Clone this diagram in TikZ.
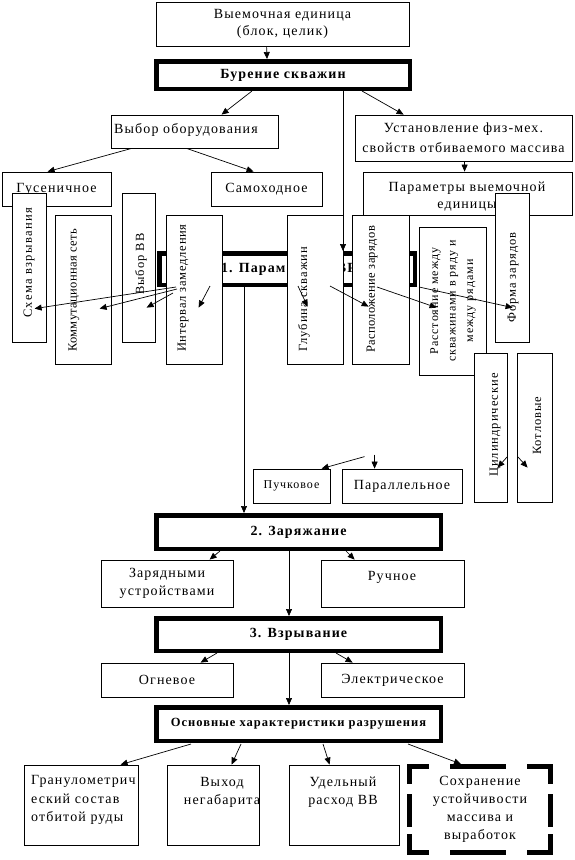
\documentclass[tikz,border=0pt]{standalone}
\usepackage{fontspec}
\setmainfont{Liberation Serif}[LetterSpace=8]
\usetikzlibrary{arrows.meta,calc}
\begin{document}
\begin{tikzpicture}[x=1pt,y=-1pt,
 sz/.style 2 args={minimum width=#1,minimum height=#2},
 box/.style={draw,line width=0.8pt,fill=white,inner sep=0pt},
 tbox/.style={draw,line width=4.5pt,fill=white,inner sep=0pt},
 dsh/.style={line width=5pt,line cap=rect},
 arr/.style={line width=0.7pt,-{Triangle[length=7pt,width=6pt]}},
 ta/.style={font=\fontsize{14}{18}\selectfont,align=center,inner sep=0pt},
 tl/.style={font=\fontsize{14}{18.5}\selectfont,align=left,inner sep=0pt},
 tb/.style={font=\fontsize{14}{17}\selectfont\bfseries,inner sep=0pt},
 tr/.style={font=\fontsize{12.5}{17}\selectfont,rotate=90,anchor=west,inner sep=0pt},
 trc/.style={font=\fontsize{12}{17.5}\selectfont,rotate=90,align=center,inner sep=0pt},
 ts/.style={font=\fontsize{12}{15}\selectfont,inner sep=0pt}]
\fill[white] (0,0) rectangle (574,860);
\useasboundingbox (0,0) rectangle (574,860);

% top part
\node[box,ta,font=\fontsize{14}{16.5}\selectfont,sz={253}{44}] (top) at (282.5,24) {Выемочная единица\\(блок, целик)};
\node[tbox,tb,sz={253.5}{27.5}] (bur) at (283,75) {Бурение скважин};
\node[box,sz={167}{33}] (vybob) at (194.5,131.5) {};
\node[ta] (tvybob) at (186,130) {Выбор оборудования};
\node[box,ta,font=\fontsize{14}{20}\selectfont,sz={217}{46}] (ust) at (463.5,138) {Установление физ-мех.\\свойств отбиваемого массива};
\node[box,ta,sz={109}{34}] (gus) at (56.5,189) {Гусеничное};
\node[box,ta,sz={111}{34}] (samo) at (266.5,189) {Самоходное};
\node[box,sz={209}{43}] (parvy) at (467.5,193.5) {};
\node[ta,font=\fontsize{14}{17}\selectfont] (tparvy) at (467,197) {Параметры выемочной\\единицы};

\draw[arr] ($(top.south west)+(111,0)$) -- ($(bur.north west)+(113,0)$);
\draw[arr] ($(bur.south west)+(98,0)$) -- ($(vybob.north west)+(111,0)$);
\draw[arr] ($(bur.south west)+(208,0)$) -- ($(ust.north west)+(49,0)$);
\draw[arr] ($(vybob.south west)+(21,0)$) -- ($(gus.north west)+(46,0)$);
\draw[arr] ($(vybob.south west)+(76,0)$) -- ($(samo.north west)+(43,0)$);
\draw[arr] ($(ust.south west)+(110,0)$) -- ($(parvy.north west)+(102,0)$);

% 1. parameters
\node[tbox,sz={255.5}{31.5}] (bvr) at (287,269) {};
\node[tb] (tbvr) at (288.5,269) {1. Параметры БВР};

% vertical boxes
\node[box,sz={34}{149}] (shema) at (29,267.5) {};
\node[tr] (tshema) at (29,318) {\addfontfeature{LetterSpace=11}Схема взрывания};
\node[box,sz={56}{149}] (kom) at (83,289.5) {};
\node[tr] (tkom) at (74,352) {\addfontfeature{LetterSpace=3}Коммутационная сеть};
\node[box,sz={33}{149}] (vybvv) at (138.5,267.5) {};
\node[tr] (tvybvv) at (141,295) {Выбор ВВ};
\node[box,sz={56}{149}] (interv) at (194,289.5) {};
\node[tr] (tinterv) at (183,352) {\addfontfeature{LetterSpace=6}Интервал замедления};
\node[box,sz={56}{149}] (glub) at (315,289.5) {};
\node[tr] (tglub) at (304,352) {Глубина скважин};
\node[box,sz={57}{149}] (rasp) at (380.5,289.5) {};
\node[tr] (trasp) at (372,353) {\addfontfeature{LetterSpace=3}Расположение зарядов};
\node[box,sz={67}{148}] (rasst) at (452.5,301) {};
\node[trc] (trasst) at (453,301) {Расстояние между\\скважинами в ряду и\\между рядами};
\node[box,sz={34}{149}] (forma) at (512,267.5) {};
\node[tr] (tforma) at (513,323) {Форма зарядов};
\node[box,sz={33}{149}] (cyl) at (490.5,427.5) {};
\node[tr] (tcyl) at (495,477) {Цилиндрические};
\node[box,sz={35}{149}] (kotl) at (534.5,427.5) {};
\node[tr] (tkotl) at (537,455) {Котловые};

\draw[arr] ($(bur.south west)+(189,0)$) -- ($(bvr.north west)+(186,0)$);

\draw[arr] ($(bvr.south west)+(19,0)$) -- ($(shema.north west)+(23,116)$);
\draw[arr] ($(bvr.south west)+(20,2)$) -- ($(kom.north west)+(45,94)$);
\draw[arr] ($(bvr.south west)+(16,6)$) -- ($(vybvv.north west)+(25,115)$);
\draw[arr] ($(bvr.south west)+(53,-1)$) -- ($(interv.north west)+(33,93)$);
\draw[arr] ($(bvr.south west)+(141,-1)$) -- ($(glub.north west)+(21,92)$);
\draw[arr] ($(bvr.south west)+(173,-1)$) -- ($(rasp.north west)+(17,92)$);
\draw[arr] ($(bvr.south west)+(220,0)$) -- ($(rasst.north west)+(18,81)$);
\draw[arr] ($(bvr.south west)+(262,0)$) -- ($(forma.north west)+(18,115)$);
\draw[arr] ($(cyl.north east)+(0,104)$) -- ($(cyl.north west)+(24,115)$);
\draw[arr] ($(kotl.north west)+(1,104)$) -- ($(kotl.north west)+(11,115)$);

% bundle / parallel
\node[box,ts,sz={77}{34}] (puch) at (291.5,486) {Пучковое};
\node[box,ta,sz={120}{34}] (paral) at (402,486) {Параллельное};
\draw[arr] ($(paral.north west)+(23,-12)$) -- ($(puch.north west)+(69,0)$);
\draw[arr] ($(paral.north west)+(33,-14)$) -- ($(paral.north west)+(33,0)$);

% lower part
\node[tbox,tb,sz={284.5}{33.5}] (zar) at (298.5,532) {2. Заряжание};
\node[box,ta,sz={132}{47}] (zaryd) at (167,583.5) {Зарядными\\устройствами};
\node[box,sz={143}{47}] (ruch) at (392.5,583.5) {};
\node[ta] (truch) at (392,577) {Ручное};
\node[tbox,tb,sz={284.5}{32.5}] (vzr) at (298.5,634.5) {3. Взрывание};
\node[box,ta,sz={132}{34}] (ogn) at (167,680) {Огневое};
\node[box,ta,sz={143}{34}] (el) at (392.5,680) {Электрическое};
\node[tbox,font=\fontsize{12.5}{14}\selectfont\bfseries,sz={284.5}{33.5}] (osn) at (298.5,724) {Основные характеристики разрушения};

\node[box,sz={114}{80}] (gran) at (81,805) {};
\node[tl,anchor=west] (tgran) at (31,800) {Гранулометрич\\еский состав\\отбитой руды};
\node[box,sz={92}{80}] (vyh) at (213,805) {};
\node[ta] (tvyh) at (222,792) {Выход\\негабарита};
\node[box,sz={110}{80}] (ud) at (344,805) {};
\node[ta] (tud) at (343,792) {Удельный\\расход ВВ};
\node[fill=white,inner sep=0pt,outer sep=0pt,ta,sz={141}{86}] (soh) at (480,809.5) {Сохранение\\устойчивости\\массива и\\выработок};
\draw[dsh,dash pattern=on 17pt off 26pt on 51pt off 26pt on 21pt off 5pt] (soh.north west) -- (soh.north east);
\draw[dsh,dash pattern=on 17pt off 26pt on 51pt off 26pt on 21pt off 5pt] (soh.south west) -- (soh.south east);
\draw[dsh,dash pattern=on 15pt off 15pt on 28pt off 12pt on 16pt off 5pt] (soh.north west) -- (soh.south west);
\draw[dsh,dash pattern=on 15pt off 15pt on 28pt off 12pt on 16pt off 5pt] (soh.north east) -- (soh.south east);

\draw[arr] ($(bvr.south west)+(87,0)$) -- ($(zar.north west)+(90,0)$);
\draw[arr] ($(zar.south west)+(66,0)$) -- ($(zaryd.north west)+(109,0)$);
\draw[arr] ($(zar.south west)+(192,0)$) -- ($(ruch.north west)+(34,0)$);
\draw[arr] ($(zar.south west)+(135,0)$) -- ($(vzr.north west)+(135,0)$);
\draw[arr] ($(vzr.south west)+(63,0)$) -- ($(ogn.north west)+(100,0)$);
\draw[arr] ($(vzr.south west)+(182,0)$) -- ($(el.north west)+(32,0)$);
\draw[arr] ($(vzr.south west)+(135,0)$) -- ($(osn.north west)+(135,0)$);
\draw[arr] ($(osn.south west)+(37,1)$) -- ($(gran.north west)+(97,0)$);
\draw[arr] ($(osn.south west)+(87,1)$) -- ($(vyh.north west)+(65,0)$);
\draw[arr] ($(osn.south west)+(169,1)$) -- ($(ud.north west)+(41,0)$);
\draw[arr] ($(osn.south west)+(254,1)$) -- ($(soh.north west)+(51.5,-2.5)$);
\end{tikzpicture}
\end{document}
